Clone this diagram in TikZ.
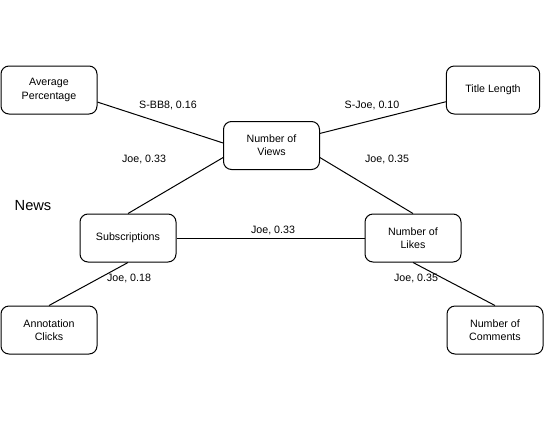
\documentclass[tikz,border=0pt]{standalone}
\usepackage{fontspec}
\setmainfont{Liberation Sans}
\begin{document}
\begin{tikzpicture}[x=0.75pt,y=-0.75pt,
    box/.style={draw, line width=0.75pt, rounded corners=6pt, minimum width=72pt, minimum height=36pt, align=center, font=\fontsize{8}{10}\selectfont},
    lbl/.style={font=\fontsize{8}{10}\selectfont},
    link/.style={line width=0.75pt}]
    %frame
    \useasboundingbox (0,0) rectangle (545,421);

    %boxes
    \node[box] (avg) at (49,90) {Average\\Percentage};
    \node[box, minimum width=70pt] (title) at (493,90) {Title Length};
    \node[box] (views) at (271.5,145.5) {Number of\\Views};
    \node[box] (subs) at (128,238) {Subscriptions};
    \node[box] (likes) at (413,238) {Number of\\Likes};
    \node[box] (annot) at (49,330) {Annotation\\Clicks};
    \node[box] (comments) at (495,330) {Number of\\Comments};
    \node[font=\fontsize{11}{13}\selectfont] (news) at (33,206) {News};

    %links
    \draw[link] (avg.-14) -- (views.177);
    \draw[link] (views.14) -- (title.194);
    \draw[link] (views.194) -- (subs.north);
    \draw[link] (views.-14) -- (likes.north);
    \draw[link] (subs.east) -- (likes.west);
    \draw[link] (subs.south) -- (annot.north);
    \draw[link] (likes.south) -- (comments.north);

    %labels
    \node[lbl] (l1) at (168,105) {S-BB8, 0.16};
    \node[lbl] (l2) at (372,105) {S-Joe, 0.10};
    \node[lbl] (l3) at (144,159) {Joe, 0.33};
    \node[lbl] (l4) at (387,159) {Joe, 0.35};
    \node[lbl] (l5) at (273,230) {Joe, 0.33};
    \node[lbl] (l6) at (129,278) {Joe, 0.18};
    \node[lbl] (l7) at (416,278) {Joe, 0.35};
\end{tikzpicture}
\end{document}
